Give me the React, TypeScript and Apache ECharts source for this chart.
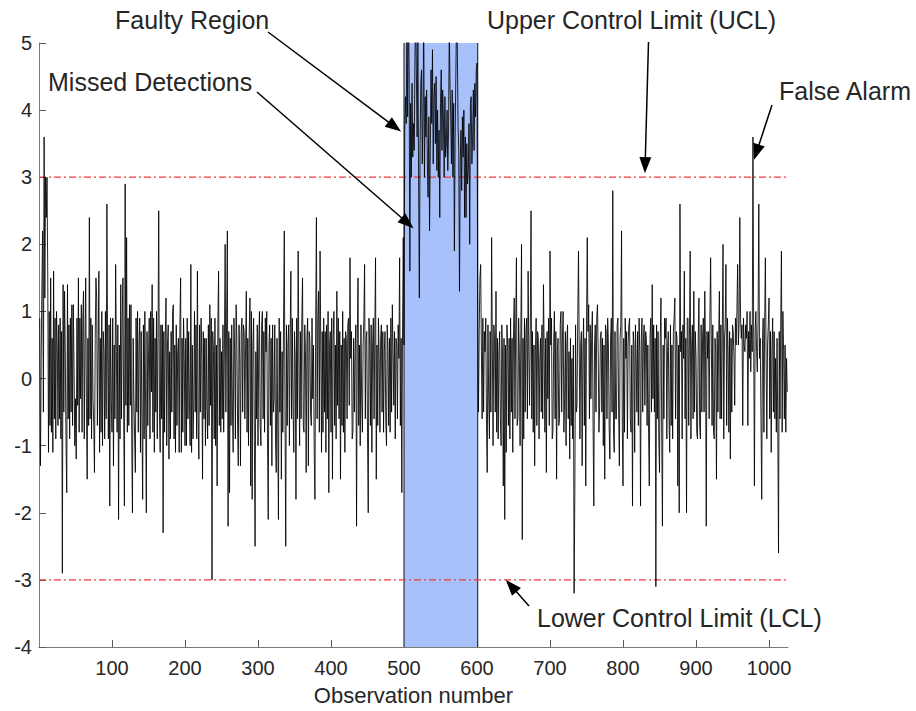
import React, { useEffect, useRef } from 'react';
import * as echarts from 'echarts';

// Observations 1-250
const obsA = [
  0.9, -1.3, 0.3, 1.4, 2.2, -0.5, 3.6, 1.2, 3.0, 2.4,
  3.0, 1.5, -1.1, 1.0, -0.7, 1.5, -0.8, 0.6, -1.1, 1.6,
  -0.6, 0.9, -0.9, 1.0, 0.5, -0.7, 0.8, -0.6, 0.9, -0.9,
  0.7, -2.9, 1.4, -0.5, 1.3, 0.4, -0.9, -1.7, 1.4, -0.6,
  0.8, -0.9, 0.9, -0.5, 1.1, -0.7, 1.1, 0.2, -1.0, -0.3,
  -1.2, 0.9, -0.4, 1.5, -0.8, 0.9, -0.3, 1.1, -0.8, 0.9,
  1.3, -0.9, 0.5, 1.5, -0.4, -1.5, 0.6, -0.7, 2.4, -0.6,
  0.9, -0.9, 0.8, -0.3, -0.7, -1.4, 0.6, 1.5, 1.2, -0.7,
  0.4, 1.6, -1.1, 0.6, -0.8, 1.0, -1.0, 0.7, 0.4, -0.9,
  1.0, -0.6, 2.6, 0.4, -0.9, 0.8, -1.9, 0.9, -0.3, -0.8,
  0.9, -1.3, 0.5, -0.6, 1.7, 0.4, -0.8, 0.8, -2.1, 0.5,
  -0.9, 1.4, -0.6, 0.9, 1.5, -0.6, -1.9, 2.9, -0.4, 2.1,
  -0.8, 0.9, -0.7, 1.1, -0.4, 1.1, -0.9, -2.0, 0.6, -0.3,
  -0.9, -1.4, 0.9, -0.5, 1.0, -0.8, 0.5, 0.9, -1.1, 0.7,
  -0.6, -1.8, 0.8, -0.9, 1.0, -0.4, -2.0, 0.7, -0.7, 0.3,
  0.9, -0.9, 1.0, -0.2, 1.4, -0.8, 0.9, -1.1, 0.6, -0.5,
  1.0, -0.9, 0.6, 2.5, -0.5, -1.1, 0.8, -0.6, 0.8, -2.3,
  0.7, -0.8, 0.6, 1.2, -1.0, 0.5, 0.8, -1.2, 0.4, -0.9,
  0.7, -0.5, 1.0, 1.1, -0.9, 0.5, -1.1, 0.8, -0.7, 0.4,
  0.6, -1.1, 0.8, 1.5, -1.1, 0.6, -0.8, 0.9, 0.3, -1.0,
  0.6, -1.0, 0.9, -0.6, 0.7, -0.3, -1.0, 1.7, -1.1, 0.5,
  -0.9, -0.4, 1.0, -0.5, 0.8, -0.9, 1.6, -0.6, -1.2, 0.8,
  -0.5, 0.9, 0.3, -1.5, 0.7, -0.6, 0.6, -1.0, 0.6, -0.4,
  -0.9, 0.8, -0.7, 1.1, -0.4, 0.9, -3.0, 0.7, 0.4, -0.9,
  0.9, -1.0, 0.5, -1.6, 0.8, 1.6, -0.7, 0.6, -0.8, 0.4,
];

// Observations 251-500
const obsB = [
  -0.6, 0.8, -0.8, 0.5, 2.0, -0.5, 0.9, 2.2, -2.2, 0.7,
  -1.7, 0.6, -0.7, 0.8, -0.5, -1.1, 0.9, 0.4, -0.9, 1.1,
  0.6, -0.7, -1.3, 0.8, 0.3, -1.3, 0.7, 0.9, -0.5, 0.8,
  0.7, -0.6, 0.5, 1.3, -0.8, 0.6, -1.0, 0.7, 1.2, -1.6,
  1.0, -1.8, 0.5, 0.9, -0.9, -2.5, 0.4, -0.6, 0.8, -1.0,
  0.5, 1.0, -0.7, -1.0, 0.8, 1.0, -0.6, 0.7, -0.8, 0.9,
  0.4, 1.0, -0.9, -2.1, 0.5, 0.8, -0.7, 0.6, -1.3, 0.8,
  -0.5, -0.3, 0.8, -0.9, -1.4, 0.6, -0.7, -2.1, 0.9, -0.5,
  0.7, -1.5, 0.4, -0.8, 0.9, 2.2, -0.6, -2.5, 0.8, -0.7,
  0.5, 0.8, -1.0, 0.6, 1.6, -0.6, 0.9, -0.4, -1.1, 0.7,
  0.3, -1.8, 0.9, -0.6, 1.9, 0.3, -1.0, 0.7, -0.6, 0.9,
  1.5, -0.7, -0.8, 0.8, 0.4, -1.4, 0.6, 0.9, -1.3, 0.7,
  0.6, -0.5, -0.7, 0.9, -0.3, 0.5, -1.1, -1.8, 0.8, 2.4,
  -0.6, 0.9, 1.3, -0.8, 1.9, 0.5, -1.1, 0.7, -0.8, 0.9,
  -0.5, 0.7, -1.1, 0.8, -0.6, 1.0, -1.7, 0.5, 0.7, -0.8,
  0.9, -1.5, 0.6, 1.0, -0.7, 0.5, -0.9, 1.3, -0.4, 0.9,
  -0.6, 0.7, -1.5, 0.5, -0.7, 1.0, -0.8, 0.6, -1.1, 0.7,
  0.6, -0.6, 0.8, 0.9, -0.4, 1.8, 0.3, 0.7, -0.9, -0.8,
  0.6, -0.5, 0.4, 0.8, -2.2, 0.6, 1.5, -0.7, 0.5, -1.0,
  0.8, -0.3, -0.8, 0.5, 0.9, 1.7, -0.6, 0.6, 0.7, -0.8,
  -2.0, 0.9, 0.5, -0.7, 0.8, -1.1, 0.5, 0.9, -0.6, 0.7,
  1.8, -1.5, 0.5, -0.7, 0.9, 0.3, -0.8, 0.6, 0.8, -0.5,
  0.7, -0.8, 0.4, 0.7, -0.6, -1.0, 0.8, 0.4, -0.7, 0.6,
  -0.8, 0.9, -0.5, 1.1, 0.4, -0.4, 0.7, -0.9, 0.6, 0.5,
  -0.6, 0.8, 0.3, 1.8, -0.7, 0.6, -1.7, 0.8, 2.1, 0.5,
];

// Observations 501-600 (faulty region)
const faultVals = [
  3.7, 4.2, 3.8, 5.3, 3.9, 5.6, 4.6, 1.6, 4.1, 3.0,
  4.4, 3.3, 3.8, 3.4, 4.8, 5.5, 4.5, 3.6, 5.1, 2.9,
  1.2, 3.5, 4.4, 4.6, 3.2, 3.9, 5.4, 3.0, 4.2, 3.6,
  4.3, 3.2, 2.7, 3.9, 2.2, 3.4, 4.6, 3.8, 4.9, 3.2,
  4.2, 4.4, 3.5, 4.5, 3.1, 4.0, 3.0, 3.7, 2.4, 4.1,
  4.6, 3.4, 4.3, 3.9, 3.0, 4.2, 3.3, 3.5, 4.0, 3.1,
  3.7, 5.2, 4.4, 3.9, 3.2, 4.3, 3.0, 4.1, 1.9, 3.6,
  4.5, 5.4, 5.0, 3.8, 3.4, 1.3, 3.2, 3.7, 2.8, 3.9,
  3.3, 4.0, 2.4, 3.6, 2.4, 3.5, 2.9, 3.1, 3.8, 2.0,
  4.1, 4.2, 3.2, 3.6, 4.3, 3.4, 4.4, 3.9, 4.6, 4.7,
];

// Observations 601-800
const obsC = [
  0.8, -0.5, 0.7, 1.5, 1.7, 0.4, -0.6, 0.9, -0.5, 0.7,
  0.4, 0.9, -0.7, -1.4, 0.8, -0.3, -0.9, 0.7, -0.5, 2.1,
  0.5, -1.0, 0.8, 0.6, -0.5, 1.3, -0.8, 0.6, -0.9, 0.4,
  0.7, -0.6, -1.0, 0.8, 0.3, -1.6, 0.6, -2.1, 0.5, -1.1,
  0.8, 0.5, -0.7, 0.6, -0.9, 0.9, -0.5, 0.6, -1.1, 0.7,
  1.2, -0.6, 0.8, 1.8, -0.7, -0.6, 0.9, 0.4, -1.0, 0.7,
  2.0, -2.4, 0.6, -0.9, 0.9, -0.5, 0.7, 0.9, -0.6, 1.6,
  0.4, -0.4, 0.8, 2.5, -0.6, 0.7, -0.8, 0.5, -1.3, 0.4,
  0.9, -0.7, 0.7, 0.6, -0.9, 0.3, 0.6, -0.5, 0.8, -0.6,
  1.4, 0.4, -0.8, 0.6, -1.4, 0.7, -0.3, 0.9, -0.7, 1.9,
  0.5, 0.9, -0.9, -0.8, 0.5, 1.0, -0.6, 0.7, -1.5, 0.4,
  0.6, -0.7, -0.6, 0.8, 1.0, -0.5, 0.6, 1.0, -0.8, -0.3,
  0.7, -1.0, 0.5, 0.8, -0.6, 0.4, -1.2, 0.6, -0.7, 0.3,
  -0.9, 0.5, -3.2, -1.7, 0.8, -0.5, -0.4, 0.9, 1.9, 0.5,
  -0.9, 0.5, 0.7, -1.3, 0.4, 0.9, -0.7, 0.6, -1.6, 0.8,
  2.1, 0.7, 1.1, -0.6, 0.8, -0.3, 0.6, 1.0, -0.7, -1.9,
  0.5, 0.8, -0.5, 0.9, 1.1, 0.4, -0.8, -0.4, 0.6, 0.7,
  -0.5, 0.6, -1.0, 0.5, -1.5, 0.8, 0.7, -0.6, 0.9, 0.5,
  -0.7, -1.2, 0.6, 0.9, -0.5, 2.8, -0.8, -1.1, 0.7, -0.6,
  -0.6, 0.8, 0.9, -0.5, -1.3, 0.6, 0.8, 2.2, -0.7, -1.6,
];

// Observations 801-1025
const obsD = [
  0.6, -0.8, 0.9, 0.3, 0.7, -0.9, 0.5, 0.8, 0.9, -0.6,
  -0.8, 0.5, -1.9, 0.7, 0.5, -1.1, 0.8, 0.3, -0.5, 0.7,
  -0.7, 0.9, 0.4, -1.9, 0.6, 0.9, -0.5, 0.6, 0.8, -0.4,
  0.7, 0.6, -0.7, 0.5, -0.8, -1.6, 0.6, 0.9, -0.5, 1.4,
  -0.3, 0.8, -0.5, 0.6, -3.1, 0.8, -0.6, 0.7, -0.9, -1.4,
  0.6, 1.2, -0.8, -2.2, 0.5, -0.6, 0.9, 0.6, 0.9, -0.9,
  0.4, 0.7, -0.6, -1.1, 0.8, -0.7, 0.5, -0.9, 0.7, 0.9,
  1.2, -0.6, 0.7, 0.6, -1.6, 0.5, -2.0, 2.6, 0.4, 0.7,
  -0.9, 0.8, 0.3, 1.6, -0.6, 0.6, -2.0, 0.9, 0.9, -0.7,
  0.6, 1.9, -0.9, 0.5, 0.8, -0.6, 1.3, -0.5, 0.7, 0.3,
  -0.8, -0.9, 0.6, 1.2, -0.7, -0.9, 0.8, -0.5, 0.6, 0.9,
  -0.5, 1.3, 0.4, -2.2, 0.7, 0.3, 0.7, -0.6, 0.9, 1.8,
  0.5, -0.7, 0.8, -0.8, -0.9, 0.6, 0.4, -1.5, 0.7, -0.5,
  0.6, 1.3, -0.6, 0.8, -0.6, 0.7, 2.0, -0.9, 0.6, 0.8,
  1.7, -0.7, 0.9, 0.4, -0.8, 0.7, -1.2, 0.6, -0.5, 0.8,
  0.7, 0.3, -0.4, 0.9, 0.5, 1.0, 1.7, 0.5, 0.8, 2.4,
  0.9, 0.6, 0.8, -0.7, 0.9, 0.5, 0.4, 0.8, 0.6, 1.0,
  -0.7, 0.7, 0.3, 1.0, 0.1, 0.8, 0.4, 3.6, 0.6, -1.6,
  0.7, 1.0, 0.4, 0.1, 0.9, 2.6, 0.3, 0.6, -0.6, -1.8,
  0.5, 0.9, -0.8, 0.8, 1.8, 0.3, -0.9, 0.5, 0.8, 1.2,
  -0.6, 0.7, -1.1, 0.4, 0.9, -0.5, 0.7, -0.6, 0.3, -0.8,
  0.6, -0.7, -2.6, 0.7, -0.6, 0.8, 1.9, -0.8, 1.0, 0.4,
  -0.6, 0.5, -0.8, 0.3, -0.2,
];

const faultRegion = [500, 601];
const controlLimits = [3, -3];
const xTickValues = [100, 200, 300, 400, 500, 600, 700, 800, 900, 1000];
const xRange = [0, 1026];
const yRange = [-4, 5];

const annotationTexts = [
  'Faulty Region',
  'Missed Detections',
  'Upper Control Limit (UCL)',
  'False Alarm',
  'Lower Control Limit (LCL)',
];
// Where each arrow points, in data coordinates [observation, value]
const arrowTargets = [
  [496, 3.68],
  [513, 2.24],
  [830, 3.06],
  [979.5, 3.26],
  [639.5, -3.0],
];

// Layout (pixels): text anchor and arrow tail
const layout = [
  { tx: 115, ty: 20, sx: 268, sy: 32 },
  { tx: 48, ty: 82, sx: 257, sy: 92 },
  { tx: 487, ty: 20, sx: 648.5, sy: 42 },
  { tx: 779, ty: 91, sx: 772, sy: 105 },
  { tx: 537, ty: 618, sx: 529, sy: 606 },
];

const FONT = '"Liberation Sans", Arial, Helvetica, sans-serif';

export default function App() {
  const ref = useRef<HTMLDivElement>(null);
  useEffect(() => {
    const el = ref.current;
    if (!el) return;
    const chart = echarts.init(el, null, { renderer: 'svg' });
    const values = [...obsA, ...obsB, ...faultVals, ...obsC, ...obsD];
    const data = values.map((v, i) => [i + 1, v]);

    const limitSeries = controlLimits.map((lim) => ({
      type: 'line',
      data: xRange.map((x) => [x, lim]),
      z: 3,
      silent: true,
      showSymbol: false,
      symbol: 'none',
      lineStyle: { color: '#ee3b3b', width: 1.2, type: [7, 3, 2, 3] },
    }));
    const edgeSeries = faultRegion.map((x) => ({
      type: 'line',
      data: yRange.map((y) => [x, y]),
      z: 2,
      silent: true,
      showSymbol: false,
      symbol: 'none',
      lineStyle: { color: '#111111', width: 1 },
    }));

    chart.setOption({
      animation: false,
      backgroundColor: '#ffffff',
      grid: { left: 39, right: 128, top: 43, bottom: 63, containLabel: false },
      xAxis: {
        type: 'value',
        min: xRange[0],
        max: xRange[1],
        name: 'Observation number',
        nameLocation: 'middle',
        nameGap: 37,
        nameTextStyle: { fontFamily: FONT, fontSize: 22, color: '#262626' },
        axisLine: { show: true, onZero: false, lineStyle: { color: '#7a7a7a', width: 1 } },
        axisTick: {
          show: true,
          inside: true,
          length: 7,
          customValues: xTickValues,
          lineStyle: { color: '#5a5a5a', width: 1 },
        },
        axisLabel: {
          customValues: xTickValues,
          formatter: (v: number) => String(v),
          fontFamily: FONT,
          fontSize: 20,
          color: '#262626',
          margin: 11,
        },
        splitLine: { show: false },
      },
      yAxis: {
        type: 'value',
        min: yRange[0],
        max: yRange[1],
        interval: 1,
        axisLine: { show: true, onZero: false, lineStyle: { color: '#7a7a7a', width: 1 } },
        axisTick: { show: true, inside: true, length: 7, lineStyle: { color: '#5a5a5a', width: 1 } },
        axisLabel: { fontFamily: FONT, fontSize: 20, color: '#262626', margin: 7 },
        splitLine: { show: false },
      },
      series: [
        {
          type: 'line',
          data: [],
          z: 1,
          silent: true,
          markArea: {
            silent: true,
            itemStyle: { color: '#a8c1fb', borderWidth: 0 },
            data: [[{ xAxis: faultRegion[0] }, { xAxis: faultRegion[1] }]],
          },
        },
        ...edgeSeries,
        ...limitSeries,
        {
          type: 'line',
          data,
          z: 5,
          showSymbol: false,
          symbol: 'none',
          clip: true,
          lineStyle: { color: '#000000', width: 0.85 },
        },
      ],
    });

    const graphics: any[] = [];
    annotationTexts.forEach((t, i) => {
      const L = layout[i];
      graphics.push({
        type: 'text',
        x: L.tx,
        y: L.ty,
        z: 100,
        style: {
          text: t,
          font: `25px ${FONT}`,
          fill: '#262626',
          align: 'left',
          verticalAlign: 'middle',
        },
      });
      const tip = chart.convertToPixel({ gridIndex: 0 }, arrowTargets[i]) as number[];
      const dx = tip[0] - L.sx;
      const dy = tip[1] - L.sy;
      const len = Math.sqrt(dx * dx + dy * dy);
      const ux = dx / len;
      const uy = dy / len;
      const headLen = 16;
      const headW = 6;
      const bx = tip[0] - ux * headLen;
      const by = tip[1] - uy * headLen;
      graphics.push({
        type: 'line',
        z: 100,
        shape: { x1: L.sx, y1: L.sy, x2: bx + ux * 2, y2: by + uy * 2 },
        style: { stroke: '#000000', lineWidth: 1.5 },
      });
      graphics.push({
        type: 'polygon',
        z: 100,
        shape: {
          points: [
            [tip[0], tip[1]],
            [bx - uy * headW, by + ux * headW],
            [bx + uy * headW, by - ux * headW],
          ],
        },
        style: { fill: '#000000', stroke: 'none' },
      });
    });
    chart.setOption({ graphic: graphics });

    return () => chart.dispose();
  }, []);
  return (
    <div
      ref={ref}
      style={{ position: 'fixed', left: 0, top: 0, width: 916, height: 711 }}
    />
  );
}
